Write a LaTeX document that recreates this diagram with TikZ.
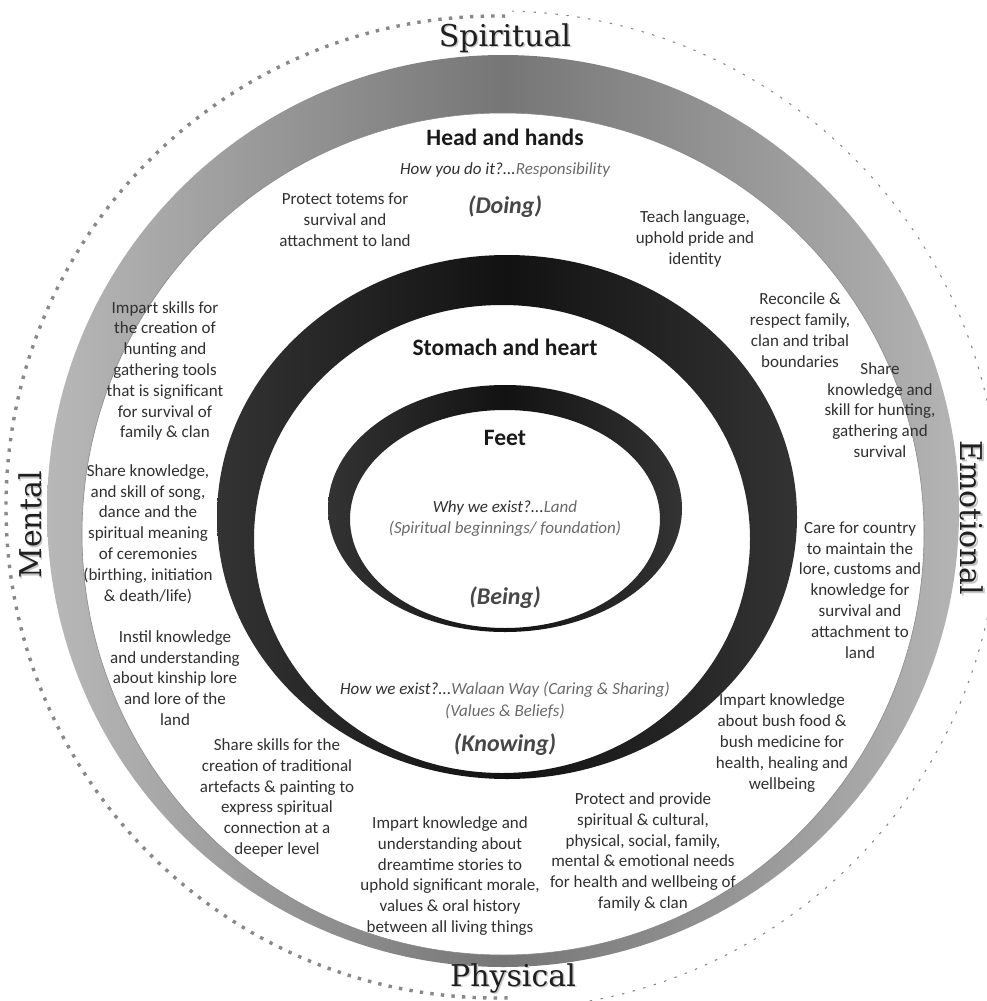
\documentclass[tikz,border=0pt]{standalone}
\usepackage{fontspec}
\setmainfont{Carlito}
\newfontfamily\labfont{DejaVu Serif}
\definecolor{txt}{HTML}{303030}
\definecolor{soft}{HTML}{6A6A6A}
\definecolor{ringL}{HTML}{B8B8B8}
\definecolor{ringM}{HTML}{767676}
\definecolor{ringR}{HTML}{B4B4B4}
\definecolor{blkL}{HTML}{333333}
\definecolor{blkM}{HTML}{121212}
\definecolor{dotc}{HTML}{888888}
\begin{document}
\begin{tikzpicture}[x=1pt,y=-1pt,
  body/.style={align=center, text=txt, font=\fontsize{17}{20.8}\selectfont, inner sep=0pt},
  head/.style={align=center, text=black!90, font=\fontsize{23.5}{26}\selectfont\bfseries, inner sep=0pt},
  mode/.style={align=center, text=black!72, font=\fontsize{24}{26}\selectfont\bfseries\itshape, inner sep=0pt},
  ital/.style={align=center, text=txt, font=\fontsize{17}{21}\selectfont\itshape, inner sep=0pt},
  lab/.style={text=black!88, font=\labfont\fontsize{30}{32}\selectfont, inner sep=0pt},
  labshadow/.style={text=black!22, font=\labfont\fontsize{30}{32}\selectfont, inner sep=0pt},
  dotheavy/.style={dotc, line width=3.4pt, dash pattern=on 3.4pt off 7.2pt},
  dotfine/.style={dotc, line width=1.1pt, dash pattern=on 2.4pt off 8.6pt}]
\useasboundingbox (0,0) rectangle (987,1001);
\fill[white] (0,0) rectangle (987,1001);

% outer dotted circle
\begin{scope}
  \clip (0,0) rectangle (512,1001);
  \draw[dotheavy] (497,507) circle[radius=491pt];
\end{scope}
\begin{scope}
  \clip (512,0) rectangle (987,1001);
  \draw[dotfine] (500,510) circle[radius=499pt];
\end{scope}

% grey crescent (Head and hands)
\shade[even odd rule, left color=ringL, right color=ringR, middle color=ringM]
  (503,511) circle[radius=456pt] (503,534) circle[radius=421pt];
\draw[black!45, line width=0.6pt] (503,534) circle[radius=421pt];

% black ring (Stomach and heart)
\shade[even odd rule, left color=blkL, right color=blkL, middle color=blkM]
  (507,517) ellipse[x radius=290pt, y radius=262pt]
  (502,539) ellipse[x radius=248pt, y radius=234pt];

% black ring (Feet)
\shade[even odd rule, left color=blkL, right color=blkL, middle color=blkM]
  (505,508.5) ellipse[x radius=177pt, y radius=123.5pt]
  (505,519) ellipse[x radius=155pt, y radius=109pt];

% quadrant labels
\node[labshadow] (spS) at (506.5,39.5) {Spiritual};
\node[lab] (sp) at (505,38) {Spiritual};
\node[labshadow] (phS) at (514.5,979.5) {Physical};
\node[lab] (ph) at (513,978) {Physical};
\node[labshadow, rotate=90] (meS) at (31.5,526.5) {Mental};
\node[lab, rotate=90] (me) at (30,525) {Mental};
\node[labshadow, rotate=-90] (emS) at (973.5,519.5) {Emotional};
\node[lab, rotate=-90] (em) at (972,518) {Emotional};

% headings
\node[head] (hh) at (505,137) {Head and hands};
\node[ital] (hhq) at (505,170) {How you do it?...\textcolor{soft}{Responsibility}};
\node[mode] (doing) at (505,207) {(Doing)};
\node[head] (sh) at (505,347) {Stomach and heart};
\node[head] (feet) at (505,438) {Feet};
\node[ital] (why) at (505,508) {Why we exist?...\textcolor{soft}{Land}};
\node[ital, text=soft] (whyb) at (505,529) {(Spiritual beginnings/ foundation)};
\node[mode] (being) at (505,598) {(Being)};
\node[ital] (how) at (505,690) {How we exist?...\textcolor{soft}{Walaan Way (Caring \& Sharing)}};
\node[ital, text=soft] (howb) at (505,711) {(Values \& Beliefs)};
\node[mode] (knowing) at (505,745) {(Knowing)};

% body texts
\node[body] (t1) at (345,220) {Protect totems for\\survival and\\attachment to land};
\node[body] (t2) at (695,239) {Teach language,\\uphold pride and\\identity};
\node[body] (t3) at (165,371) {Impart skills for\\the creation of\\hunting and\\gathering tools\\that is significant\\for survival of\\family \& clan};
\node[body] (t4) at (800,330) {Reconcile \&\\respect family,\\clan and tribal\\boundaries};
\node[body] (t5) at (880,410) {Share\\knowledge and\\skill for hunting,\\gathering and\\survival};
\node[body] (t6) at (148,534) {Share knowledge,\\and skill of song,\\dance and the\\spiritual meaning\\of ceremonies\\(birthing, initiation\\\& death/life)};
\node[body] (t7) at (860,590) {Care for country\\to maintain the\\lore, customs and\\knowledge for\\survival and\\attachment to\\land};
\node[body] (t8) at (175,678) {Instil knowledge\\and understanding\\about kinship lore\\and lore of the\\land};
\node[body] (t9) at (782,743) {Impart knowledge\\about bush food \&\\bush medicine for\\health, healing and\\wellbeing};
\node[body] (t10) at (277,798) {Share skills for the\\creation of traditional\\artefacts \& painting to\\express spiritual\\connection at a\\deeper level};
\node[body] (t11) at (450,876) {Impart knowledge and\\understanding about\\dreamtime stories to\\uphold significant morale,\\values \& oral history\\between all living things};
\node[body] (t12) at (643,852) {Protect and provide\\spiritual \& cultural,\\physical, social, family,\\mental \& emotional needs\\for health and wellbeing of\\family \& clan};
\end{tikzpicture}
\end{document}
